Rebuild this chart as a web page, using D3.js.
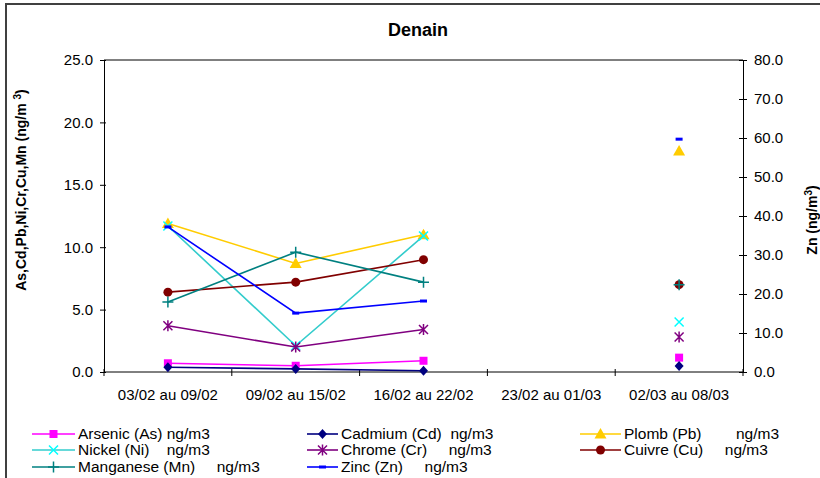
<!DOCTYPE html>
<html>
<head>
<meta charset="utf-8">
<script src="https://cdn.jsdelivr.net/npm/d3@7"></script>
<style>
  body { margin: 0; background: #fff; }
  svg { display: block; font-family: "Liberation Sans", Arial, sans-serif; }
  text { white-space: pre; }
</style>
</head>
<body>
<div class="plot"></div>
<script>
// data
const categories = ["03/02 au 09/02", "09/02 au 15/02", "16/02 au 22/02", "23/02 au 01/03", "02/03 au 08/03"]
const arsenic   = [0.7, 0.5, 0.9, null, 1.15]
const cadmium   = [0.38, 0.25, 0.1, null, 0.48]
const plomb     = [11.9, 8.7, 11.0, null, 17.7]
const nickel    = [11.7, 2.1, 10.9, null, 4.0]
const chrome    = [3.7, 2.0, 3.4, null, 2.8]
const cuivre    = [6.4, 7.2, 9.0, null, 7.0]
const manganese = [5.6, 9.6, 7.2, null, 7.0]
const zinc      = [37.2, 15.1, 18.2, null, 59.7]
const leftTicks  = [0, 5, 10, 15, 20, 25]
const rightTicks = [0, 10, 20, 30, 40, 50, 60, 70, 80]

// marker shapes (drawn around 0,0)
const shapes = {
  square:   "M-4,-4H4V4H-4Z",
  diamond:  "M0,-5L4.5,0L0,5L-4.5,0Z",
  triangle: "M0,-6L6,4.5H-6Z",
  times:    "M-4.5,-4.5L4.5,4.5M-4.5,4.5L4.5,-4.5",
  asterisk: "M-4.5,-4.5L4.5,4.5M-4.5,4.5L4.5,-4.5M0,-5.5V5.5",
  circle:   "M4.5,0A4.5,4.5 0 1,1 -4.5,0A4.5,4.5 0 1,1 4.5,0Z",
  plus:     "M-5.5,0H5.5M0,-5.5V5.5",
  dash:     "M-3.5,-1.5H3.5V1.5H-3.5Z"
}

const series = [
  {label: "Arsenic (As) ng/m3",       values: arsenic,   line: "#ff00ff", mark: "#ff00ff", shape: "square",   fill: true,  axis: "left"},
  {label: "Cadmium (Cd)  ng/m3",      values: cadmium,   line: "#000080", mark: "#000080", shape: "diamond",  fill: true,  axis: "left"},
  {label: "Plomb (Pb)        ng/m3",  values: plomb,     line: "#ffcc00", mark: "#ffcc00", shape: "triangle", fill: true,  axis: "left"},
  {label: "Nickel (Ni)    ng/m3",     values: nickel,    line: "#33cccc", mark: "#00ffff", shape: "times",    fill: false, axis: "left"},
  {label: "Chrome (Cr)     ng/m3",    values: chrome,    line: "#800080", mark: "#800080", shape: "asterisk", fill: false, axis: "left"},
  {label: "Cuivre (Cu)     ng/m3",    values: cuivre,    line: "#800000", mark: "#800000", shape: "circle",   fill: true,  axis: "left"},
  {label: "Manganese (Mn)     ng/m3", values: manganese, line: "#008080", mark: "#008080", shape: "plus",     fill: false, axis: "left"},
  {label: "Zinc (Zn)     ng/m3",      values: zinc,      line: "#0000ff", mark: "#0000ff", shape: "dash",     fill: true,  axis: "right"}
]

const W = 820, H = 478
const plot = {left: 104, right: 743, top: 60, bottom: 372}

let svg = d3.select(".plot")
  .append("svg")
  .attr("width", W)
  .attr("height", H)

// outer chart border (cut off on right and bottom)
svg.append("rect")
  .attr("x", 6).attr("y", 4)
  .attr("width", 900).attr("height", 600)
  .attr("fill", "none")
  .attr("stroke", "#404040")
  .attr("stroke-width", 2)

// title
svg.append("text")
  .attr("x", 418).attr("y", 36)
  .attr("text-anchor", "middle")
  .style("font-size", "18px")
  .style("font-weight", "bold")
  .text("Denain")

let xScale = d3.scaleBand()
  .domain(categories)
  .range([plot.left, plot.right])
  .padding(0)
let yLeft = d3.scaleLinear().domain([0, 25]).range([plot.bottom, plot.top])
let yRight = d3.scaleLinear().domain([0, 80]).range([plot.bottom, plot.top])

// plot frame (top line)
svg.append("line")
  .attr("x1", plot.left).attr("x2", plot.right)
  .attr("y1", plot.top).attr("y2", plot.top)
  .attr("stroke", "#000").attr("stroke-width", 1)

// left axis
let gl = svg.append("g")
  .attr("transform", "translate(" + plot.left + ",0)")
  .call(d3.axisLeft(yLeft).tickValues(leftTicks).tickFormat(d3.format(".1f")).tickSizeOuter(0).tickSize(4).tickPadding(7))
gl.selectAll(".tick line").attr("x2", -4).attr("x1", 2)
gl.selectAll(".tick text").style("font-size", "15px").attr("fill", "#000")
gl.select(".domain").attr("stroke", "#000")

// right axis
let gr = svg.append("g")
  .attr("transform", "translate(" + plot.right + ",0)")
  .call(d3.axisRight(yRight).tickValues(rightTicks).tickFormat(d3.format(".1f")).tickSizeOuter(0).tickSize(4).tickPadding(7))
gr.selectAll(".tick line").attr("x1", -4).attr("x2", 4)
gr.selectAll(".tick text").style("font-size", "15px").attr("fill", "#000")
gr.select(".domain").attr("stroke", "#000")

// x axis
svg.append("line")
  .attr("x1", plot.left).attr("x2", plot.right)
  .attr("y1", plot.bottom).attr("y2", plot.bottom)
  .attr("stroke", "#000")
svg.selectAll(".xtick")
  .data(categories.concat(["end"]))
  .enter()
  .append("line")
  .attr("class", "xtick")
  .attr("x1", function(d, i){ return i < categories.length ? xScale(d) : plot.right })
  .attr("x2", function(d, i){ return i < categories.length ? xScale(d) : plot.right })
  .attr("y1", plot.bottom - 3)
  .attr("y2", plot.bottom + 4)
  .attr("stroke", "#000")
svg.selectAll(".xlabel")
  .data(categories)
  .enter()
  .append("text")
  .attr("class", "xlabel")
  .attr("x", function(d){ return xScale(d) + xScale.bandwidth() / 2 })
  .attr("y", 400)
  .attr("text-anchor", "middle")
  .style("font-size", "15px")
  .text(function(d){ return d })

// axis titles
let lt = svg.append("text")
  .attr("transform", "translate(26,190) rotate(-90)")
  .attr("text-anchor", "middle")
  .style("font-size", "14px")
  .style("font-weight", "bold")
lt.append("tspan").text("As,Cd,Pb,Ni,Cr,Cu,Mn (ng/m ")
lt.append("tspan").attr("dy", -5).style("font-size", "10px").text("3")
lt.append("tspan").attr("dy", 5).text(")")

let rt = svg.append("text")
  .attr("transform", "translate(817,220) rotate(-90)")
  .attr("text-anchor", "middle")
  .style("font-size", "14px")
  .style("font-weight", "bold")
rt.append("tspan").text("Zn (ng/m")
rt.append("tspan").attr("dy", -5).style("font-size", "10px").text("3")
rt.append("tspan").attr("dy", 5).text(")")

// series lines + markers
series.forEach(function(s){
  let y = s.axis == "left" ? yLeft : yRight
  let pts = s.values.map(function(v, i){ return {cat: categories[i], v: v} })
  let line = d3.line()
    .defined(function(d){ return d.v != null })
    .x(function(d){ return xScale(d.cat) + xScale.bandwidth() / 2 })
    .y(function(d){ return y(d.v) })
  svg.append("path")
    .datum(pts)
    .attr("d", line)
    .attr("fill", "none")
    .attr("stroke", s.line)
    .attr("stroke-width", 1.6)
  svg.selectAll(null)
    .data(pts.filter(function(d){ return d.v != null }))
    .enter()
    .append("path")
    .attr("transform", function(d){
      return "translate(" + (xScale(d.cat) + xScale.bandwidth() / 2) + "," + y(d.v) + ")"
    })
    .attr("d", shapes[s.shape])
    .attr("fill", s.fill ? s.mark : "none")
    .attr("stroke", s.mark)
    .attr("stroke-width", s.fill ? 0 : 1.5)
})

// legend
let cols = [{x0: 32, x1: 75}, {x0: 307, x1: 338}, {x0: 580, x1: 621}]
let rowY = [434, 450, 467]
let legend = svg.selectAll(".legend")
  .data(series)
  .enter()
  .append("g")
  .attr("class", "legend")
  .attr("transform", function(d, i){ return "translate(0," + rowY[Math.floor(i / 3)] + ")" })
legend.append("line")
  .attr("x1", function(d, i){ return cols[i % 3].x0 })
  .attr("x2", function(d, i){ return cols[i % 3].x1 })
  .attr("stroke", function(d){ return d.line })
  .attr("stroke-width", 1.6)
legend.append("path")
  .attr("transform", function(d, i){ return "translate(" + (cols[i % 3].x0 + cols[i % 3].x1) / 2 + ",0)" })
  .attr("d", function(d){ return shapes[d.shape] })
  .attr("fill", function(d){ return d.fill ? d.mark : "none" })
  .attr("stroke", function(d){ return d.mark })
  .attr("stroke-width", function(d){ return d.fill ? 0 : 1.5 })
legend.append("text")
  .attr("x", function(d, i){ return cols[i % 3].x1 + 3 })
  .attr("y", 5)
  .style("font-size", "15.5px")
  .text(function(d){ return d.label })
</script>
</body>
</html>
